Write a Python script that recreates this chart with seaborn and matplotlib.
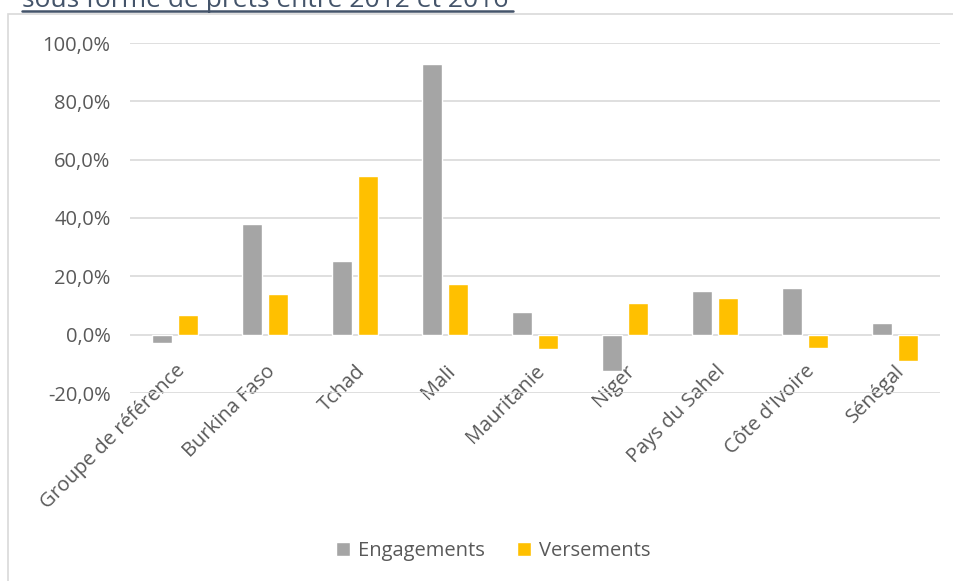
import pandas as pd
import matplotlib
matplotlib.use('Agg')
import matplotlib.pyplot as plt
import seaborn as sns
from matplotlib.patches import Rectangle
from matplotlib.ticker import FuncFormatter

# Données (variation en %)
pays = ['Groupe de référence', 'Burkina Faso', 'Tchad', 'Mali', 'Mauritanie',
        'Niger', 'Pays du Sahel', "Côte d'Ivoire", 'Sénégal']
engagements = [-2.9, 38.0, 25.3, 92.9, 7.7, -12.5, 15.1, 15.9, 3.9]
versements = [6.9, 13.9, 54.5, 17.4, -4.8, 10.7, 12.5, -4.6, -9.0]
series = ['Engagements', 'Versements']
couleurs = ['#A5A5A5', '#FFC000']
titre = 'sous forme de prêts entre 2012 et 2016'

df = pd.DataFrame({
    'pays': pays * 2,
    'serie': [series[0]] * len(pays) + [series[1]] * len(pays),
    'valeur': engagements + versements,
})

sns.set_theme(style='white')
plt.rcParams['font.family'] = ['Open Sans', 'DejaVu Sans']
texte = '#595959'

fig = plt.figure(figsize=(9.54, 5.81), dpi=100)
ax = fig.add_axes([130 / 954, 1 - 393 / 581, 810 / 954, 350 / 581])

sns.barplot(data=df, x='pays', y='valeur', hue='serie', palette=couleurs,
            width=0.57, gap=0.22, ax=ax, legend=True, saturation=1)

ax.set_ylim(-20, 100)
ax.set_yticks(range(-20, 101, 20))
ax.yaxis.set_major_formatter(FuncFormatter(lambda v, p: f'{v:.1f}%'.replace('.', ',')))
ax.grid(axis='y', color='#D9D9D9', linewidth=1.2)
ax.set_axisbelow(True)
for s in ax.spines.values():
    s.set_visible(False)
# l'axe des catégories croise à 0
ax.spines['bottom'].set_position(('data', 0))
ax.set_xlabel('')
ax.set_ylabel('')
ax.tick_params(axis='both', length=0, labelsize=14.5, labelcolor=texte)
ax.tick_params(axis='y', pad=14)
ax.tick_params(axis='x', pad=19)
plt.setp(ax.get_xticklabels(), rotation=45, ha='right', va='top',
         rotation_mode='anchor')
ax.set_xlim(-0.5, len(pays) - 0.5)

ax.legend(loc='center', bbox_to_anchor=(493 / 954, 1 - 551 / 581),
          bbox_transform=fig.transFigure, ncol=2, frameon=False,
          fontsize=14.5, labelcolor=texte, handlelength=0.7, handleheight=0.7,
          columnspacing=1.6, handletextpad=0.4)

# cadre du graphique
fig.patches.append(Rectangle((8 / 954, -0.01), 1.0, 1 - 14 / 581 + 0.01,
                             transform=fig.transFigure, fill=False,
                             edgecolor='#D9D9D9', linewidth=1.2))

# titre (coupé en haut)
fig.text(22 / 954, 1 - 7 / 581, titre, fontsize=19, color='#44546A',
         ha='left', va='baseline')
fig.add_artist(plt.Line2D([22 / 954, 513 / 954], [1 - 11 / 581, 1 - 11 / 581],
                          transform=fig.transFigure, color='#44546A', linewidth=1.8))

fig.savefig('out.png', dpi=100)
